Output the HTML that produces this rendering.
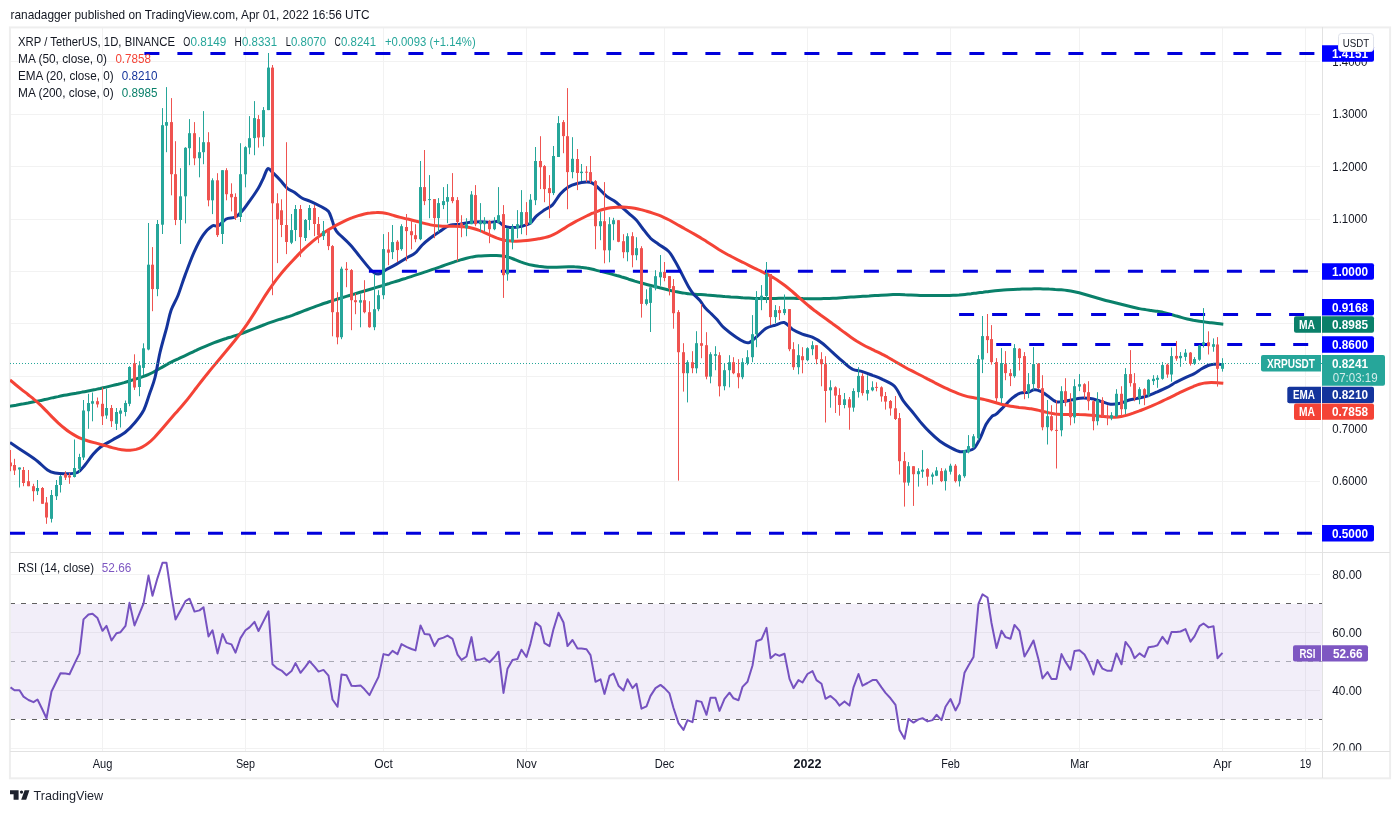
<!DOCTYPE html>
<html lang="en"><head><meta charset="utf-8"><title>XRPUSDT chart</title><style>html,body{margin:0;padding:0;background:#fff}svg{display:block}</style></head><body>
<svg width="1400" height="813" viewBox="0 0 1400 813" font-family="'Liberation Sans', sans-serif" font-size="12.6" fill="#131722">
<rect width="1400" height="813" fill="#fff"/>
<text x="10.5" y="19" font-size="13" textLength="359" lengthAdjust="spacingAndGlyphs">ranadagger published on TradingView.com, Apr 01, 2022 16:56 UTC</text>
<defs><clipPath id="cm"><rect x="10" y="27" width="1312" height="525"/></clipPath><clipPath id="cr"><rect x="10" y="552" width="1312" height="198.5"/></clipPath><clipPath id="ca"><rect x="1322" y="552" width="68" height="198.5"/></clipPath></defs>
<g stroke="#f2f2f2" stroke-width="1" shape-rendering="crispEdges">
<line x1="102.5" y1="27" x2="102.5" y2="750.5"/>
<line x1="245.5" y1="27" x2="245.5" y2="750.5"/>
<line x1="383.5" y1="27" x2="383.5" y2="750.5"/>
<line x1="526.5" y1="27" x2="526.5" y2="750.5"/>
<line x1="664.5" y1="27" x2="664.5" y2="750.5"/>
<line x1="807.5" y1="27" x2="807.5" y2="750.5"/>
<line x1="950.5" y1="27" x2="950.5" y2="750.5"/>
<line x1="1079.5" y1="27" x2="1079.5" y2="750.5"/>
<line x1="1222.5" y1="27" x2="1222.5" y2="750.5"/>
<line x1="1305.5" y1="27" x2="1305.5" y2="750.5"/>
<line x1="10" y1="61.5" x2="1320" y2="61.5"/>
<line x1="10" y1="114.5" x2="1320" y2="114.5"/>
<line x1="10" y1="166.5" x2="1320" y2="166.5"/>
<line x1="10" y1="219.5" x2="1320" y2="219.5"/>
<line x1="10" y1="271.5" x2="1320" y2="271.5"/>
<line x1="10" y1="323.5" x2="1320" y2="323.5"/>
<line x1="10" y1="376.5" x2="1320" y2="376.5"/>
<line x1="10" y1="428.5" x2="1320" y2="428.5"/>
<line x1="10" y1="481.5" x2="1320" y2="481.5"/>
<line x1="10" y1="533.5" x2="1320" y2="533.5"/>
<line x1="10" y1="574.5" x2="1320" y2="574.5"/>
<line x1="10" y1="632.5" x2="1320" y2="632.5"/>
<line x1="10" y1="690.5" x2="1320" y2="690.5"/>
<line x1="10" y1="748.5" x2="1320" y2="748.5"/>
</g>
<rect x="10" y="604" width="1312" height="115" fill="#7e57c2" fill-opacity="0.1"/>
<g stroke="#606060" stroke-width="1" stroke-dasharray="5 6" shape-rendering="crispEdges">
<line x1="10" y1="603.5" x2="1322" y2="603.5"/>
<line x1="10" y1="719.5" x2="1322" y2="719.5"/>
</g>
<line x1="10" y1="661.5" x2="1322" y2="661.5" stroke="#787b86" stroke-opacity="0.6" stroke-width="1" stroke-dasharray="5 6" shape-rendering="crispEdges"/>
<rect x="9.9" y="27.4" width="1380.2" height="750.9" fill="none" stroke="#eeeeee" stroke-width="2"/>
<g stroke="#e2e2e2" stroke-width="1" fill="none" shape-rendering="crispEdges">
<line x1="1322.5" y1="27" x2="1322.5" y2="778"/>
<line x1="10" y1="552.5" x2="1390" y2="552.5"/>
<line x1="10" y1="751" x2="1390" y2="751"/>
</g>
<g clip-path="url(#cm)">
<path d="M10.0 406.2C11.0 406.1 14.0 405.5 16.0 405.2C18.0 404.8 20.0 404.4 22.0 404.1C24.0 403.7 26.0 403.3 28.0 403.0C30.0 402.6 32.0 402.2 34.0 401.8C36.0 401.4 38.0 401.0 40.0 400.6C42.0 400.2 44.0 399.7 46.0 399.3C48.0 398.8 50.0 398.4 52.0 397.9C54.0 397.5 56.1 397.0 58.1 396.6C60.1 396.1 62.1 395.7 64.1 395.3C66.1 395.0 68.1 394.6 70.1 394.2C72.1 393.9 74.1 393.5 76.1 393.2C78.1 392.8 80.1 392.5 82.1 392.1C84.1 391.8 86.1 391.4 88.1 391.0C90.1 390.6 92.1 390.2 94.1 389.8C96.1 389.4 98.1 388.9 100.1 388.5C102.1 388.0 104.1 387.6 106.1 387.1C108.1 386.6 110.1 386.1 112.1 385.6C114.1 385.2 116.1 384.7 118.1 384.2C120.1 383.6 122.1 383.1 124.1 382.6C126.1 382.0 128.1 381.4 130.1 380.8C132.1 380.2 134.1 379.6 136.1 378.9C138.1 378.3 140.1 377.7 142.1 376.9C144.1 376.2 146.2 375.5 148.2 374.6C150.2 373.7 152.2 372.8 154.2 371.7C156.2 370.7 158.2 369.5 160.2 368.3C162.2 367.2 164.2 366.0 166.2 364.9C168.2 363.8 170.2 362.7 172.2 361.7C174.2 360.7 176.2 359.8 178.2 358.9C180.2 357.9 182.2 357.0 184.2 356.1C186.2 355.2 188.2 354.2 190.2 353.2C192.2 352.3 194.2 351.3 196.2 350.4C198.2 349.4 200.2 348.5 202.2 347.6C204.2 346.7 206.2 345.9 208.2 345.1C210.2 344.3 212.2 343.5 214.2 342.7C216.2 341.9 218.2 341.2 220.2 340.5C222.2 339.8 224.2 339.1 226.2 338.5C228.2 337.8 230.2 337.3 232.2 336.6C234.2 336.0 236.3 335.3 238.3 334.7C240.3 334.0 242.3 333.2 244.3 332.5C246.3 331.8 248.3 331.0 250.3 330.2C252.3 329.4 254.3 328.6 256.3 327.8C258.3 327.0 260.3 326.2 262.3 325.5C264.3 324.7 266.3 323.9 268.3 323.2C270.3 322.5 272.3 321.8 274.3 321.1C276.3 320.5 278.3 319.9 280.3 319.2C282.3 318.6 284.3 318.0 286.3 317.3C288.3 316.7 290.3 316.0 292.3 315.3C294.3 314.5 296.3 313.8 298.3 313.0C300.3 312.2 302.3 311.4 304.3 310.6C306.3 309.9 308.3 309.1 310.3 308.3C312.3 307.6 314.3 306.9 316.3 306.1C318.3 305.4 320.3 304.7 322.3 304.0C324.3 303.3 326.4 302.7 328.4 302.0C330.4 301.3 332.4 300.7 334.4 300.1C336.4 299.4 338.4 298.8 340.4 298.2C342.4 297.6 344.4 297.0 346.4 296.4C348.4 295.8 350.4 295.2 352.4 294.6C354.4 294.0 356.4 293.4 358.4 292.8C360.4 292.2 362.4 291.6 364.4 291.0C366.4 290.4 368.4 289.8 370.4 289.2C372.4 288.6 374.4 288.0 376.4 287.4C378.4 286.8 380.4 286.2 382.4 285.6C384.4 285.0 386.4 284.4 388.4 283.8C390.4 283.1 392.4 282.5 394.4 281.9C396.4 281.3 398.4 280.6 400.4 280.0C402.4 279.4 404.4 278.7 406.4 278.1C408.4 277.4 410.4 276.8 412.4 276.1C414.4 275.5 416.5 274.8 418.5 274.1C420.5 273.5 422.5 272.8 424.5 272.1C426.5 271.5 428.5 270.8 430.5 270.1C432.5 269.4 434.5 268.8 436.5 268.1C438.5 267.4 440.5 266.7 442.5 266.0C444.5 265.3 446.5 264.6 448.5 263.9C450.5 263.2 452.5 262.5 454.5 261.8C456.5 261.2 458.5 260.5 460.5 259.9C462.5 259.3 464.5 258.8 466.5 258.3C468.5 257.8 470.5 257.3 472.5 256.9C474.5 256.6 476.5 256.3 478.5 256.1C480.5 255.9 482.5 255.8 484.5 255.7C486.5 255.6 488.5 255.5 490.5 255.5C492.5 255.5 494.5 255.4 496.5 255.5C498.5 255.6 500.5 255.7 502.5 256.0C504.5 256.3 506.6 256.7 508.6 257.3C510.6 257.8 512.6 258.7 514.6 259.5C516.6 260.2 518.6 261.1 520.6 261.9C522.6 262.6 524.6 263.3 526.6 263.9C528.6 264.5 530.6 264.9 532.6 265.3C534.6 265.7 536.6 266.0 538.6 266.3C540.6 266.5 542.6 266.8 544.6 266.9C546.6 267.1 548.6 267.2 550.6 267.2C552.6 267.3 554.6 267.2 556.6 267.2C558.6 267.1 560.6 267.0 562.6 266.9C564.6 266.8 566.6 266.7 568.6 266.7C570.6 266.7 572.6 266.7 574.6 266.8C576.6 266.8 578.6 266.9 580.6 267.2C582.6 267.4 584.6 267.6 586.6 268.0C588.6 268.3 590.6 268.8 592.6 269.3C594.6 269.8 596.7 270.4 598.7 270.9C600.7 271.4 602.7 271.9 604.7 272.4C606.7 272.9 608.7 273.4 610.7 273.9C612.7 274.4 614.7 274.9 616.7 275.5C618.7 276.0 620.7 276.6 622.7 277.3C624.7 277.9 626.7 278.5 628.7 279.2C630.7 279.8 632.7 280.4 634.7 281.1C636.7 281.7 638.7 282.3 640.7 282.8C642.7 283.4 644.7 284.0 646.7 284.5C648.7 285.0 650.7 285.5 652.7 286.0C654.7 286.5 656.7 287.0 658.7 287.5C660.7 288.0 662.7 288.5 664.7 289.0C666.7 289.5 668.7 290.0 670.7 290.5C672.7 290.9 674.7 291.4 676.7 291.8C678.7 292.2 680.7 292.6 682.7 292.9C684.7 293.3 686.8 293.5 688.8 293.8C690.8 294.0 692.8 294.1 694.8 294.2C696.8 294.4 698.8 294.5 700.8 294.6C702.8 294.7 704.8 294.8 706.8 295.0C708.8 295.1 710.8 295.3 712.8 295.5C714.8 295.7 716.8 295.8 718.8 296.0C720.8 296.2 722.8 296.3 724.8 296.5C726.8 296.6 728.8 296.7 730.8 296.9C732.8 297.0 734.8 297.1 736.8 297.2C738.8 297.4 740.8 297.5 742.8 297.7C744.8 297.8 746.8 298.0 748.8 298.1C750.8 298.2 752.8 298.3 754.8 298.4C756.8 298.5 758.8 298.5 760.8 298.6C762.8 298.6 764.8 298.6 766.8 298.5C768.8 298.5 770.8 298.5 772.8 298.5C774.8 298.4 776.9 298.4 778.9 298.3C780.9 298.3 782.9 298.3 784.9 298.3C786.9 298.2 788.9 298.3 790.9 298.3C792.9 298.3 794.9 298.4 796.9 298.4C798.9 298.5 800.9 298.5 802.9 298.6C804.9 298.6 806.9 298.6 808.9 298.7C810.9 298.7 812.9 298.7 814.9 298.7C816.9 298.7 818.9 298.7 820.9 298.7C822.9 298.6 824.9 298.6 826.9 298.5C828.9 298.5 830.9 298.4 832.9 298.3C834.9 298.2 836.9 298.1 838.9 297.9C840.9 297.8 842.9 297.6 844.9 297.5C846.9 297.4 848.9 297.2 850.9 297.1C852.9 297.0 854.9 296.8 856.9 296.7C858.9 296.6 860.9 296.5 862.9 296.3C864.9 296.2 867.0 296.1 869.0 296.0C871.0 295.8 873.0 295.7 875.0 295.6C877.0 295.5 879.0 295.3 881.0 295.2C883.0 295.1 885.0 295.0 887.0 294.9C889.0 294.8 891.0 294.7 893.0 294.6C895.0 294.6 897.0 294.6 899.0 294.6C901.0 294.6 903.0 294.7 905.0 294.8C907.0 294.8 909.0 295.0 911.0 295.0C913.0 295.1 915.0 295.2 917.0 295.3C919.0 295.4 921.0 295.4 923.0 295.5C925.0 295.5 927.0 295.6 929.0 295.6C931.0 295.6 933.0 295.6 935.0 295.6C937.0 295.6 939.0 295.6 941.0 295.6C943.0 295.6 945.0 295.5 947.0 295.5C949.0 295.4 951.0 295.4 953.0 295.3C955.0 295.2 957.1 295.1 959.1 295.0C961.1 294.8 963.1 294.6 965.1 294.4C967.1 294.2 969.1 293.9 971.1 293.7C973.1 293.4 975.1 293.2 977.1 292.9C979.1 292.7 981.1 292.4 983.1 292.2C985.1 291.9 987.1 291.7 989.1 291.4C991.1 291.2 993.1 291.0 995.1 290.8C997.1 290.6 999.1 290.4 1001.1 290.2C1003.1 290.0 1005.1 289.9 1007.1 289.8C1009.1 289.7 1011.1 289.6 1013.1 289.5C1015.1 289.4 1017.1 289.3 1019.1 289.2C1021.1 289.1 1023.1 289.1 1025.1 289.0C1027.1 289.0 1029.1 288.9 1031.1 288.9C1033.1 288.9 1035.1 288.8 1037.1 288.8C1039.1 288.8 1041.1 288.9 1043.1 288.9C1045.1 288.9 1047.2 289.0 1049.2 289.1C1051.2 289.1 1053.2 289.2 1055.2 289.4C1057.2 289.5 1059.2 289.6 1061.2 289.8C1063.2 290.0 1065.2 290.2 1067.2 290.5C1069.2 290.8 1071.2 291.1 1073.2 291.5C1075.2 291.9 1077.2 292.3 1079.2 292.8C1081.2 293.3 1083.2 293.9 1085.2 294.5C1087.2 295.1 1089.2 295.7 1091.2 296.3C1093.2 296.9 1095.2 297.5 1097.2 298.0C1099.2 298.6 1101.2 299.2 1103.2 299.7C1105.2 300.3 1107.2 300.8 1109.2 301.3C1111.2 301.8 1113.2 302.3 1115.2 302.8C1117.2 303.3 1119.2 303.8 1121.2 304.3C1123.2 304.8 1125.2 305.3 1127.2 305.8C1129.2 306.3 1131.2 306.8 1133.2 307.3C1135.2 307.8 1137.3 308.2 1139.3 308.6C1141.3 309.0 1143.3 309.3 1145.3 309.6C1147.3 310.0 1149.3 310.2 1151.3 310.5C1153.3 310.8 1155.3 311.0 1157.3 311.3C1159.3 311.7 1161.3 312.0 1163.3 312.4C1165.3 312.9 1167.3 313.4 1169.3 313.9C1171.3 314.5 1173.3 315.1 1175.3 315.7C1177.3 316.2 1179.3 316.9 1181.3 317.4C1183.3 318.0 1185.3 318.5 1187.3 319.0C1189.3 319.5 1191.3 319.9 1193.3 320.3C1195.3 320.6 1197.3 320.9 1199.3 321.2C1201.3 321.5 1203.3 321.8 1205.3 322.1C1207.3 322.3 1209.3 322.6 1211.3 322.8C1213.3 323.1 1215.3 323.3 1217.3 323.5C1219.3 323.8 1222.3 324.1 1223.3 324.2" fill="none" stroke="#0a806a" stroke-width="3" stroke-linejoin="round" stroke-linecap="butt"/>
<path d="M10.0 442.5C12.5 444.2 20.4 449.4 25.0 452.5C29.6 455.6 33.8 458.3 37.5 461.2C41.2 464.2 44.6 468.0 47.5 470.0C50.4 472.0 52.1 472.4 55.0 473.0C57.9 473.6 61.2 473.8 65.0 473.8C68.8 473.7 74.2 474.0 77.5 472.5C80.8 471.0 82.5 467.9 85.0 465.0C87.5 462.1 90.0 457.9 92.5 455.0C95.0 452.1 96.7 450.0 100.0 447.5C103.3 445.0 108.3 442.5 112.5 440.0C116.7 437.5 121.2 435.4 125.0 432.5C128.8 429.6 131.9 426.2 135.0 422.5C138.1 418.8 141.2 415.0 143.8 410.0C146.2 405.0 148.1 397.9 150.0 392.5C151.9 387.1 153.3 384.2 155.0 377.5C156.7 370.8 158.1 360.8 160.0 352.5C161.9 344.2 164.8 334.7 166.7 327.6C168.5 320.6 169.2 315.6 171.1 310.2C173.0 304.8 175.8 301.0 178.1 295.2C180.4 289.3 182.4 282.3 185.1 275.1C187.8 268.0 191.1 258.8 194.1 252.1C197.1 245.4 200.1 239.4 203.1 235.1C206.2 230.7 209.7 227.5 212.2 226.0C214.7 224.5 215.8 227.2 218.2 226.0C220.5 224.9 223.4 220.5 226.2 219.0C229.0 217.5 232.5 218.4 235.2 217.0C237.9 215.7 239.9 213.6 242.2 211.0C244.6 208.4 246.6 205.4 249.2 201.6C251.9 197.9 255.9 192.2 258.3 188.3C260.6 184.4 261.7 181.5 263.3 178.3C264.9 175.0 266.2 169.5 267.9 168.6C269.5 167.8 271.2 171.3 273.3 173.2C275.4 175.2 278.0 177.8 280.3 180.3C282.6 182.8 285.0 186.3 287.3 188.3C289.7 190.3 291.8 190.6 294.3 192.3C296.8 194.0 299.7 196.8 302.3 198.3C305.0 199.8 307.4 200.0 310.4 201.3C313.4 202.6 317.4 204.6 320.4 206.3C323.4 208.0 326.4 208.9 328.4 211.3C330.4 213.8 331.1 217.7 332.4 221.0C333.7 224.3 333.4 227.0 336.4 231.1C339.4 235.1 344.8 238.7 350.4 245.1C356.1 251.5 365.8 264.7 370.5 269.5C375.2 274.4 375.8 274.1 378.5 274.1C381.2 274.1 383.5 271.2 386.5 269.5C389.5 267.9 393.1 266.1 396.5 264.1C400.0 262.1 404.2 259.3 407.3 257.5C410.4 255.7 412.6 255.3 415.0 253.2C417.5 251.2 419.5 247.7 422.0 245.2C424.5 242.7 427.1 240.5 430.1 238.2C433.1 235.9 436.7 233.4 440.1 231.2C443.4 229.0 446.8 226.3 450.1 225.2C453.4 224.0 456.8 224.7 460.1 224.2C463.5 223.7 466.8 222.6 470.1 222.2C473.5 221.8 476.8 221.8 480.2 221.8C483.5 221.8 487.2 222.2 490.2 222.2C493.2 222.2 495.9 221.1 498.2 221.8C500.5 222.4 501.9 225.2 504.2 226.2C506.5 227.1 509.6 227.5 512.2 227.6C514.9 227.6 517.2 227.3 520.2 226.6C523.2 225.8 527.6 224.9 530.3 223.2C532.9 221.4 533.9 218.3 536.3 216.2C538.6 214.0 541.6 212.0 544.3 210.1C547.0 208.3 549.6 207.8 552.3 205.1C555.0 202.5 557.6 197.1 560.3 194.1C563.0 191.1 565.7 188.8 568.3 187.1C571.0 185.4 573.3 184.5 576.4 183.7C579.4 182.9 583.7 182.2 586.4 182.1C589.0 182.0 590.4 182.1 592.4 183.1C594.4 184.1 596.1 185.9 598.4 188.1C600.7 190.3 603.7 193.9 606.4 196.1C609.1 198.3 612.1 199.5 614.4 201.1C616.8 202.8 618.1 204.1 620.4 206.1C622.8 208.1 625.8 210.8 628.5 213.1C631.1 215.5 634.1 217.7 636.5 220.2C638.8 222.7 640.1 225.2 642.5 228.2C644.8 231.2 647.8 235.5 650.5 238.2C653.2 240.9 655.5 242.0 658.5 244.2C661.5 246.4 665.9 248.6 668.5 251.2C671.2 253.9 672.6 257.1 674.5 260.2C676.5 263.4 677.6 265.7 680.0 270.3C682.3 274.8 686.5 283.3 688.8 287.3C691.1 291.3 692.0 292.2 693.8 294.4C695.7 296.6 698.0 298.2 699.9 300.4C701.7 302.6 703.1 305.3 704.9 307.5C706.8 309.7 708.9 311.5 711.0 313.5C713.0 315.6 714.8 317.2 717.0 319.6C719.2 322.0 720.9 325.0 724.1 327.9C727.3 330.8 732.8 334.9 736.2 337.2C739.5 339.5 742.0 340.9 744.2 341.8C746.3 342.7 747.2 343.4 749.2 342.6C751.2 341.8 753.4 339.6 756.2 337.2C759.0 334.8 763.0 330.2 766.2 328.2C769.4 326.2 772.2 326.1 775.2 325.2C778.2 324.2 781.4 321.9 784.2 322.5C787.1 323.2 789.3 327.2 792.3 329.2C795.3 331.1 798.9 332.8 802.3 334.2C805.6 335.5 809.0 335.7 812.3 337.2C815.6 338.7 819.0 340.7 822.3 343.2C825.7 345.7 829.0 349.2 832.3 352.2C835.7 355.2 839.0 358.4 842.4 361.2C845.7 364.1 849.0 367.5 852.4 369.2C855.7 371.0 859.1 370.6 862.4 371.6C865.7 372.6 869.1 374.0 872.4 375.3C875.8 376.5 878.8 377.4 882.4 379.3C886.1 381.1 891.0 382.6 894.5 386.3C898.0 389.9 900.5 396.9 903.5 401.2C906.5 405.5 909.7 408.6 912.5 412.0C915.3 415.5 917.7 418.8 920.5 422.1C923.3 425.3 926.0 428.5 929.3 431.7C932.5 434.9 936.6 438.7 940.0 441.3C943.5 443.9 946.7 445.6 950.1 447.3C953.4 449.0 957.1 451.1 960.1 451.7C963.1 452.3 965.8 451.3 968.1 450.7C970.4 450.1 972.1 450.4 974.1 448.3C976.1 446.2 978.1 442.3 980.1 438.3C982.1 434.3 984.1 427.9 986.1 424.2C988.1 420.6 990.5 417.9 992.1 416.2C993.8 414.6 994.1 415.9 996.2 414.2C998.2 412.6 1001.5 408.9 1004.2 406.2C1006.8 403.5 1009.5 400.4 1012.2 398.2C1014.9 396.0 1017.5 394.2 1020.2 393.2C1022.9 392.2 1025.9 392.8 1028.2 392.2C1030.6 391.6 1032.2 389.9 1034.2 389.8C1036.2 389.6 1037.9 390.1 1040.2 391.2C1042.6 392.3 1045.6 394.4 1048.3 396.2C1050.9 398.0 1053.6 401.0 1056.3 401.8C1058.9 402.6 1061.6 401.5 1064.3 401.2C1067.0 400.9 1069.6 400.3 1072.3 399.8C1075.0 399.3 1077.3 398.4 1080.3 398.2C1083.3 398.0 1087.0 398.1 1090.3 398.6C1093.7 399.1 1097.0 400.3 1100.4 401.2C1103.7 402.1 1107.0 403.9 1110.4 404.2C1113.7 404.5 1117.4 403.9 1120.4 403.2C1123.4 402.5 1125.7 401.0 1128.4 400.2C1131.1 399.4 1133.4 399.3 1136.4 398.6C1139.4 397.9 1143.1 397.3 1146.5 396.2C1149.8 395.1 1153.1 393.6 1156.5 392.2C1159.8 390.8 1163.4 389.3 1166.6 387.7C1169.9 386.0 1172.8 384.0 1175.8 382.3C1178.9 380.7 1181.9 379.2 1184.9 377.8C1187.9 376.4 1191.1 375.4 1193.9 373.9C1196.7 372.4 1199.3 370.2 1201.7 368.8C1204.0 367.4 1206.2 366.3 1208.1 365.5C1210.0 364.8 1211.3 364.5 1213.3 364.3C1215.2 364.0 1218.1 364.2 1219.7 364.3C1221.3 364.3 1222.4 364.5 1223.0 364.5" fill="none" stroke="#14349c" stroke-width="3" stroke-linejoin="round" stroke-linecap="butt"/>
<path d="M10.0 380.0C11.0 380.8 14.0 383.3 16.0 385.0C18.0 386.6 20.0 388.2 22.0 389.8C24.0 391.4 26.0 392.9 28.0 394.5C30.0 396.1 32.0 397.6 34.0 399.3C36.0 400.9 38.0 402.7 40.0 404.6C42.0 406.5 44.0 408.6 46.0 410.6C48.0 412.7 50.0 414.8 52.0 416.9C54.0 418.9 56.1 420.9 58.1 422.8C60.1 424.6 62.1 426.4 64.1 428.0C66.1 429.7 68.1 431.2 70.1 432.5C72.1 433.8 74.1 435.0 76.1 436.1C78.1 437.2 80.1 438.1 82.1 438.9C84.1 439.7 86.1 440.4 88.1 441.0C90.1 441.6 92.1 442.1 94.1 442.6C96.1 443.2 98.1 443.6 100.1 444.2C102.1 444.7 104.1 445.3 106.1 445.9C108.1 446.4 110.1 447.1 112.1 447.6C114.1 448.1 116.1 448.7 118.1 449.1C120.1 449.5 122.1 449.9 124.1 450.0C126.1 450.2 128.1 450.3 130.1 450.2C132.1 450.1 134.1 449.9 136.1 449.4C138.1 448.8 140.1 448.1 142.1 447.1C144.1 446.1 146.2 444.8 148.2 443.2C150.2 441.6 152.2 439.7 154.2 437.7C156.2 435.7 158.2 433.4 160.2 431.1C162.2 428.8 164.2 426.4 166.2 424.0C168.2 421.7 170.2 419.3 172.2 417.0C174.2 414.7 176.2 412.5 178.2 410.2C180.2 407.9 182.2 405.7 184.2 403.3C186.2 400.9 188.2 398.4 190.2 395.8C192.2 393.3 194.2 390.6 196.2 388.0C198.2 385.4 200.2 382.7 202.2 380.2C204.2 377.6 206.2 375.1 208.2 372.7C210.2 370.2 212.2 367.8 214.2 365.4C216.2 363.0 218.2 360.6 220.2 358.2C222.2 355.8 224.2 353.4 226.2 351.0C228.2 348.6 230.2 346.2 232.2 343.7C234.2 341.2 236.3 338.8 238.3 336.2C240.3 333.6 242.3 330.9 244.3 328.2C246.3 325.4 248.3 322.5 250.3 319.4C252.3 316.4 254.3 313.2 256.3 309.9C258.3 306.7 260.3 303.4 262.3 300.2C264.3 297.0 266.3 293.8 268.3 290.9C270.3 287.9 272.3 285.0 274.3 282.3C276.3 279.6 278.3 277.1 280.3 274.6C282.3 272.2 284.3 269.9 286.3 267.6C288.3 265.3 290.3 263.1 292.3 261.0C294.3 258.8 296.3 256.7 298.3 254.6C300.3 252.6 302.3 250.6 304.3 248.7C306.3 246.9 308.3 245.1 310.3 243.4C312.3 241.6 314.3 240.0 316.3 238.4C318.3 236.9 320.3 235.3 322.3 233.9C324.3 232.5 326.4 231.1 328.4 229.8C330.4 228.6 332.4 227.4 334.4 226.3C336.4 225.1 338.4 224.1 340.4 223.1C342.4 222.1 344.4 221.1 346.4 220.2C348.4 219.3 350.4 218.4 352.4 217.7C354.4 216.9 356.4 216.2 358.4 215.6C360.4 215.0 362.4 214.5 364.4 214.0C366.4 213.6 368.4 213.2 370.4 213.0C372.4 212.7 374.4 212.5 376.4 212.5C378.4 212.4 380.4 212.5 382.4 212.7C384.4 213.0 386.4 213.4 388.4 213.9C390.4 214.4 392.4 215.1 394.4 215.7C396.4 216.3 398.4 216.9 400.4 217.4C402.4 217.9 404.4 218.3 406.4 218.8C408.4 219.2 410.4 219.7 412.4 220.2C414.4 220.7 416.5 221.2 418.5 221.8C420.5 222.3 422.5 222.9 424.5 223.4C426.5 223.9 428.5 224.5 430.5 224.9C432.5 225.3 434.5 225.6 436.5 225.8C438.5 226.0 440.5 226.2 442.5 226.2C444.5 226.3 446.5 226.3 448.5 226.3C450.5 226.3 452.5 226.2 454.5 226.3C456.5 226.3 458.5 226.3 460.5 226.4C462.5 226.5 464.5 226.7 466.5 227.0C468.5 227.3 470.5 227.7 472.5 228.2C474.5 228.8 476.5 229.4 478.5 230.2C480.5 230.9 482.5 231.7 484.5 232.6C486.5 233.4 488.5 234.4 490.5 235.3C492.5 236.1 494.5 237.0 496.5 237.8C498.5 238.5 500.5 239.2 502.5 239.7C504.5 240.2 506.6 240.6 508.6 240.8C510.6 241.1 512.6 241.2 514.6 241.2C516.6 241.3 518.6 241.2 520.6 241.1C522.6 241.0 524.6 240.8 526.6 240.6C528.6 240.4 530.6 240.1 532.6 239.8C534.6 239.5 536.6 239.2 538.6 238.8C540.6 238.4 542.6 238.1 544.6 237.6C546.6 237.1 548.6 236.6 550.6 235.8C552.6 235.1 554.6 234.1 556.6 233.0C558.6 231.9 560.6 230.6 562.6 229.3C564.6 228.1 566.6 226.7 568.6 225.5C570.6 224.3 572.6 223.2 574.6 222.1C576.6 221.0 578.6 220.0 580.6 219.0C582.6 218.0 584.6 217.0 586.6 216.0C588.6 215.1 590.6 214.1 592.6 213.2C594.6 212.4 596.7 211.5 598.7 210.8C600.7 210.1 602.7 209.5 604.7 209.0C606.7 208.5 608.7 208.1 610.7 207.8C612.7 207.5 614.7 207.3 616.7 207.2C618.7 207.1 620.7 207.1 622.7 207.1C624.7 207.2 626.7 207.3 628.7 207.5C630.7 207.7 632.7 208.0 634.7 208.3C636.7 208.7 638.7 209.1 640.7 209.6C642.7 210.1 644.7 210.7 646.7 211.2C648.7 211.8 650.7 212.4 652.7 213.1C654.7 213.8 656.7 214.5 658.7 215.2C660.7 216.0 662.7 216.9 664.7 217.8C666.7 218.7 668.7 219.8 670.7 220.8C672.7 221.9 674.7 223.1 676.7 224.2C678.7 225.3 680.7 226.5 682.7 227.6C684.7 228.7 686.8 229.8 688.8 231.0C690.8 232.1 692.8 233.2 694.8 234.4C696.8 235.5 698.8 236.7 700.8 237.9C702.8 239.2 704.8 240.4 706.8 241.7C708.8 243.0 710.8 244.3 712.8 245.6C714.8 246.9 716.8 248.2 718.8 249.5C720.8 250.7 722.8 251.9 724.8 253.0C726.8 254.1 728.8 255.2 730.8 256.2C732.8 257.3 734.8 258.3 736.8 259.3C738.8 260.3 740.8 261.3 742.8 262.3C744.8 263.4 746.8 264.4 748.8 265.3C750.8 266.3 752.8 267.3 754.8 268.3C756.8 269.3 758.8 270.2 760.8 271.2C762.8 272.2 764.8 273.1 766.8 274.2C768.8 275.2 770.8 276.3 772.8 277.4C774.8 278.6 776.9 279.8 778.9 281.2C780.9 282.5 782.9 284.0 784.9 285.5C786.9 287.0 788.9 288.7 790.9 290.4C792.9 292.1 794.9 293.9 796.9 295.6C798.9 297.4 800.9 299.2 802.9 300.9C804.9 302.6 806.9 304.4 808.9 306.0C810.9 307.7 812.9 309.2 814.9 310.8C816.9 312.3 818.9 313.8 820.9 315.3C822.9 316.7 824.9 318.1 826.9 319.5C828.9 321.0 830.9 322.4 832.9 323.9C834.9 325.3 836.9 326.8 838.9 328.3C840.9 329.8 842.9 331.4 844.9 332.8C846.9 334.3 848.9 335.8 850.9 337.2C852.9 338.6 854.9 340.0 856.9 341.3C858.9 342.5 860.9 343.7 862.9 344.8C864.9 346.0 867.0 347.0 869.0 347.9C871.0 348.9 873.0 349.8 875.0 350.8C877.0 351.7 879.0 352.6 881.0 353.6C883.0 354.6 885.0 355.7 887.0 356.7C889.0 357.8 891.0 359.0 893.0 360.2C895.0 361.3 897.0 362.5 899.0 363.7C901.0 364.9 903.0 366.0 905.0 367.2C907.0 368.3 909.0 369.4 911.0 370.4C913.0 371.5 915.0 372.5 917.0 373.5C919.0 374.5 921.0 375.5 923.0 376.5C925.0 377.5 927.0 378.6 929.0 379.6C931.0 380.7 933.0 381.7 935.0 382.8C937.0 383.8 939.0 384.8 941.0 385.8C943.0 386.8 945.0 387.8 947.0 388.7C949.0 389.7 951.0 390.6 953.0 391.4C955.0 392.3 957.1 393.1 959.1 393.9C961.1 394.6 963.1 395.3 965.1 395.9C967.1 396.5 969.1 396.9 971.1 397.3C973.1 397.7 975.1 397.9 977.1 398.2C979.1 398.5 981.1 398.8 983.1 399.2C985.1 399.6 987.1 400.2 989.1 400.7C991.1 401.3 993.1 401.9 995.1 402.5C997.1 403.1 999.1 403.7 1001.1 404.2C1003.1 404.7 1005.1 405.1 1007.1 405.5C1009.1 405.9 1011.1 406.3 1013.1 406.6C1015.1 406.9 1017.1 407.1 1019.1 407.4C1021.1 407.6 1023.1 407.8 1025.1 408.0C1027.1 408.3 1029.1 408.5 1031.1 408.8C1033.1 409.2 1035.1 409.6 1037.1 410.0C1039.1 410.4 1041.1 411.0 1043.1 411.5C1045.1 412.0 1047.2 412.5 1049.2 412.9C1051.2 413.4 1053.2 413.7 1055.2 414.0C1057.2 414.2 1059.2 414.3 1061.2 414.4C1063.2 414.5 1065.2 414.5 1067.2 414.5C1069.2 414.5 1071.2 414.5 1073.2 414.5C1075.2 414.5 1077.2 414.4 1079.2 414.5C1081.2 414.5 1083.2 414.6 1085.2 414.7C1087.2 414.8 1089.2 415.0 1091.2 415.2C1093.2 415.4 1095.2 415.6 1097.2 415.8C1099.2 416.0 1101.2 416.3 1103.2 416.5C1105.2 416.7 1107.2 416.9 1109.2 417.0C1111.2 417.2 1113.2 417.3 1115.2 417.2C1117.2 417.1 1119.2 416.9 1121.2 416.6C1123.2 416.2 1125.2 415.7 1127.2 415.1C1129.2 414.5 1131.2 413.8 1133.2 413.1C1135.2 412.3 1137.3 411.6 1139.3 410.9C1141.3 410.1 1143.3 409.4 1145.3 408.6C1147.3 407.8 1149.3 407.0 1151.3 406.2C1153.3 405.3 1155.3 404.4 1157.3 403.5C1159.3 402.6 1161.3 401.7 1163.3 400.7C1165.3 399.7 1167.3 398.8 1169.3 397.8C1171.3 396.8 1173.3 395.8 1175.3 394.8C1177.3 393.8 1179.3 392.9 1181.3 391.9C1183.3 391.0 1185.3 390.1 1187.3 389.2C1189.3 388.3 1191.3 387.4 1193.3 386.6C1195.3 385.8 1197.3 384.9 1199.3 384.3C1201.3 383.7 1203.3 383.3 1205.3 382.9C1207.3 382.6 1209.3 382.5 1211.3 382.5C1213.3 382.5 1215.3 382.6 1217.3 382.7C1219.3 382.8 1222.3 383.1 1223.3 383.2" fill="none" stroke="#f44336" stroke-width="3" stroke-linejoin="round" stroke-linecap="butt"/>
<line x1="144.4" y1="53.5" x2="1322" y2="53.5" stroke="#0000dc" stroke-width="3" stroke-dasharray="15 18"/>
<line x1="368.9" y1="271.2" x2="1322" y2="271.2" stroke="#0000dc" stroke-width="3" stroke-dasharray="15 18"/>
<line x1="959.1" y1="314.4" x2="1322" y2="314.4" stroke="#0000dc" stroke-width="3" stroke-dasharray="15 18"/>
<line x1="996.2" y1="344.5" x2="1322" y2="344.5" stroke="#0000dc" stroke-width="3" stroke-dasharray="15 18"/>
<line x1="10" y1="533.3" x2="1322" y2="533.3" stroke="#0000dc" stroke-width="3" stroke-dasharray="15 18"/>
<line x1="10" y1="363.5" x2="1322" y2="363.5" stroke="#26a69a" stroke-width="1" stroke-dasharray="1 2" shape-rendering="crispEdges"/>
<rect x="10" y="450.0" width="1" height="21.2" fill="#ef5350"/>
<rect x="9" y="462.5" width="3" height="3.8" fill="#ef5350"/>
<rect x="14" y="458.8" width="1" height="16.2" fill="#ef5350"/>
<rect x="13" y="465.0" width="3" height="5.5" fill="#ef5350"/>
<rect x="19" y="467.5" width="1" height="20.0" fill="#26a69a"/>
<rect x="18" y="467.5" width="3" height="2.0" fill="#26a69a"/>
<rect x="23" y="467.0" width="1" height="19.2" fill="#ef5350"/>
<rect x="22" y="470.0" width="3" height="13.0" fill="#ef5350"/>
<rect x="28" y="470.0" width="1" height="16.2" fill="#ef5350"/>
<rect x="27" y="481.2" width="3" height="5.0" fill="#ef5350"/>
<rect x="33" y="483.8" width="1" height="17.5" fill="#ef5350"/>
<rect x="32" y="486.2" width="3" height="5.0" fill="#ef5350"/>
<rect x="37" y="480.0" width="1" height="15.0" fill="#26a69a"/>
<rect x="36" y="488.0" width="3" height="3.2" fill="#26a69a"/>
<rect x="42" y="487.0" width="1" height="16.8" fill="#ef5350"/>
<rect x="41" y="488.0" width="3" height="15.8" fill="#ef5350"/>
<rect x="46" y="497.0" width="1" height="26.8" fill="#ef5350"/>
<rect x="45" y="502.5" width="3" height="15.0" fill="#ef5350"/>
<rect x="51" y="490.0" width="1" height="32.5" fill="#26a69a"/>
<rect x="50" y="495.0" width="3" height="23.8" fill="#26a69a"/>
<rect x="56" y="480.0" width="1" height="20.0" fill="#26a69a"/>
<rect x="55" y="485.0" width="3" height="11.2" fill="#26a69a"/>
<rect x="60" y="475.0" width="1" height="17.5" fill="#26a69a"/>
<rect x="59" y="476.2" width="3" height="8.8" fill="#26a69a"/>
<rect x="65" y="471.2" width="1" height="8.8" fill="#ef5350"/>
<rect x="64" y="473.8" width="3" height="3.8" fill="#ef5350"/>
<rect x="69" y="473.0" width="1" height="10.8" fill="#ef5350"/>
<rect x="68" y="475.5" width="3" height="2.0" fill="#ef5350"/>
<rect x="74" y="439.5" width="1" height="38.0" fill="#26a69a"/>
<rect x="73" y="468.0" width="3" height="9.0" fill="#26a69a"/>
<rect x="79" y="453.8" width="1" height="19.2" fill="#26a69a"/>
<rect x="78" y="457.0" width="3" height="11.8" fill="#26a69a"/>
<rect x="83" y="400.0" width="1" height="60.0" fill="#26a69a"/>
<rect x="82" y="410.5" width="3" height="47.0" fill="#26a69a"/>
<rect x="88" y="393.8" width="1" height="35.0" fill="#26a69a"/>
<rect x="87" y="403.0" width="3" height="8.2" fill="#26a69a"/>
<rect x="92" y="392.5" width="1" height="28.8" fill="#26a69a"/>
<rect x="91" y="401.2" width="3" height="2.5" fill="#26a69a"/>
<rect x="97" y="397.5" width="1" height="10.0" fill="#ef5350"/>
<rect x="96" y="401.2" width="3" height="3.2" fill="#ef5350"/>
<rect x="102" y="387.5" width="1" height="37.5" fill="#ef5350"/>
<rect x="101" y="403.8" width="3" height="12.5" fill="#ef5350"/>
<rect x="106" y="388.8" width="1" height="30.0" fill="#26a69a"/>
<rect x="105" y="408.0" width="3" height="7.5" fill="#26a69a"/>
<rect x="111" y="405.0" width="1" height="22.0" fill="#ef5350"/>
<rect x="110" y="408.0" width="3" height="13.2" fill="#ef5350"/>
<rect x="116" y="408.0" width="1" height="22.0" fill="#26a69a"/>
<rect x="115" y="412.0" width="3" height="11.8" fill="#26a69a"/>
<rect x="120" y="408.0" width="1" height="19.5" fill="#26a69a"/>
<rect x="119" y="410.5" width="3" height="3.2" fill="#26a69a"/>
<rect x="125" y="400.5" width="1" height="15.8" fill="#26a69a"/>
<rect x="124" y="403.0" width="3" height="9.0" fill="#26a69a"/>
<rect x="129" y="366.2" width="1" height="40.0" fill="#26a69a"/>
<rect x="128" y="367.0" width="3" height="36.8" fill="#26a69a"/>
<rect x="134" y="354.3" width="1" height="35.7" fill="#ef5350"/>
<rect x="133" y="363.3" width="3" height="24.2" fill="#ef5350"/>
<rect x="139" y="361.2" width="1" height="35.0" fill="#26a69a"/>
<rect x="138" y="365.3" width="3" height="21.7" fill="#26a69a"/>
<rect x="143" y="343.3" width="1" height="31.7" fill="#26a69a"/>
<rect x="142" y="348.3" width="3" height="19.6" fill="#26a69a"/>
<rect x="148" y="223.0" width="1" height="127.3" fill="#26a69a"/>
<rect x="147" y="264.7" width="3" height="84.8" fill="#26a69a"/>
<rect x="152" y="247.1" width="1" height="64.1" fill="#ef5350"/>
<rect x="151" y="264.7" width="3" height="24.4" fill="#ef5350"/>
<rect x="157" y="220.0" width="1" height="76.2" fill="#26a69a"/>
<rect x="156" y="224.0" width="3" height="65.1" fill="#26a69a"/>
<rect x="162" y="108.1" width="1" height="125.9" fill="#26a69a"/>
<rect x="161" y="125.2" width="3" height="99.5" fill="#26a69a"/>
<rect x="166" y="87.1" width="1" height="65.1" fill="#26a69a"/>
<rect x="165" y="122.1" width="3" height="3.6" fill="#26a69a"/>
<rect x="171" y="98.1" width="1" height="97.2" fill="#ef5350"/>
<rect x="170" y="122.1" width="3" height="52.1" fill="#ef5350"/>
<rect x="175" y="141.2" width="1" height="83.9" fill="#ef5350"/>
<rect x="174" y="174.2" width="3" height="45.8" fill="#ef5350"/>
<rect x="180" y="168.2" width="1" height="75.8" fill="#26a69a"/>
<rect x="179" y="196.3" width="3" height="23.7" fill="#26a69a"/>
<rect x="185" y="147.2" width="1" height="76.2" fill="#26a69a"/>
<rect x="184" y="147.8" width="3" height="48.5" fill="#26a69a"/>
<rect x="189" y="119.1" width="1" height="46.1" fill="#26a69a"/>
<rect x="188" y="133.2" width="3" height="15.0" fill="#26a69a"/>
<rect x="194" y="122.1" width="1" height="43.1" fill="#ef5350"/>
<rect x="193" y="133.2" width="3" height="25.1" fill="#ef5350"/>
<rect x="199" y="137.2" width="1" height="40.1" fill="#26a69a"/>
<rect x="198" y="152.2" width="3" height="6.0" fill="#26a69a"/>
<rect x="203" y="111.1" width="1" height="53.1" fill="#26a69a"/>
<rect x="202" y="142.2" width="3" height="10.0" fill="#26a69a"/>
<rect x="208" y="132.2" width="1" height="74.1" fill="#ef5350"/>
<rect x="207" y="142.2" width="3" height="58.1" fill="#ef5350"/>
<rect x="212" y="178.3" width="1" height="35.8" fill="#26a69a"/>
<rect x="211" y="180.3" width="3" height="20.0" fill="#26a69a"/>
<rect x="217" y="173.2" width="1" height="63.8" fill="#ef5350"/>
<rect x="216" y="180.3" width="3" height="54.8" fill="#ef5350"/>
<rect x="222" y="170.2" width="1" height="73.8" fill="#26a69a"/>
<rect x="221" y="170.2" width="3" height="63.8" fill="#26a69a"/>
<rect x="226" y="168.2" width="1" height="32.1" fill="#ef5350"/>
<rect x="225" y="170.2" width="3" height="24.0" fill="#ef5350"/>
<rect x="231" y="183.3" width="1" height="28.1" fill="#ef5350"/>
<rect x="230" y="193.9" width="3" height="3.4" fill="#ef5350"/>
<rect x="235" y="193.3" width="1" height="26.7" fill="#ef5350"/>
<rect x="234" y="196.9" width="3" height="21.1" fill="#ef5350"/>
<rect x="240" y="143.2" width="1" height="78.8" fill="#26a69a"/>
<rect x="239" y="174.2" width="3" height="42.8" fill="#26a69a"/>
<rect x="245" y="146.2" width="1" height="41.1" fill="#26a69a"/>
<rect x="244" y="147.2" width="3" height="27.1" fill="#26a69a"/>
<rect x="249" y="116.1" width="1" height="38.1" fill="#26a69a"/>
<rect x="248" y="138.2" width="3" height="9.4" fill="#26a69a"/>
<rect x="254" y="101.1" width="1" height="54.1" fill="#26a69a"/>
<rect x="253" y="118.1" width="3" height="20.0" fill="#26a69a"/>
<rect x="258" y="115.1" width="1" height="32.5" fill="#ef5350"/>
<rect x="257" y="119.1" width="3" height="18.4" fill="#ef5350"/>
<rect x="263" y="107.1" width="1" height="39.1" fill="#26a69a"/>
<rect x="262" y="110.1" width="3" height="27.1" fill="#26a69a"/>
<rect x="268" y="53.0" width="1" height="57.1" fill="#26a69a"/>
<rect x="267" y="67.6" width="3" height="42.5" fill="#26a69a"/>
<rect x="272" y="65.0" width="1" height="230.2" fill="#ef5350"/>
<rect x="271" y="67.6" width="3" height="135.7" fill="#ef5350"/>
<rect x="277" y="193.3" width="1" height="69.8" fill="#ef5350"/>
<rect x="276" y="203.3" width="3" height="16.1" fill="#ef5350"/>
<rect x="281" y="199.3" width="1" height="37.8" fill="#ef5350"/>
<rect x="280" y="210.3" width="3" height="14.7" fill="#ef5350"/>
<rect x="286" y="142.2" width="1" height="111.9" fill="#ef5350"/>
<rect x="285" y="225.0" width="3" height="17.0" fill="#ef5350"/>
<rect x="291" y="214.0" width="1" height="30.1" fill="#26a69a"/>
<rect x="290" y="230.1" width="3" height="12.6" fill="#26a69a"/>
<rect x="295" y="205.0" width="1" height="36.1" fill="#26a69a"/>
<rect x="294" y="209.0" width="3" height="21.0" fill="#26a69a"/>
<rect x="300" y="205.0" width="1" height="52.1" fill="#ef5350"/>
<rect x="299" y="209.0" width="3" height="28.1" fill="#ef5350"/>
<rect x="305" y="219.0" width="1" height="22.0" fill="#26a69a"/>
<rect x="304" y="220.0" width="3" height="18.0" fill="#26a69a"/>
<rect x="309" y="205.0" width="1" height="25.1" fill="#26a69a"/>
<rect x="308" y="208.0" width="3" height="12.0" fill="#26a69a"/>
<rect x="314" y="205.0" width="1" height="31.1" fill="#ef5350"/>
<rect x="313" y="208.0" width="3" height="16.0" fill="#ef5350"/>
<rect x="318" y="217.0" width="1" height="26.1" fill="#ef5350"/>
<rect x="317" y="224.0" width="3" height="11.0" fill="#ef5350"/>
<rect x="323" y="221.0" width="1" height="19.0" fill="#26a69a"/>
<rect x="322" y="231.1" width="3" height="5.0" fill="#26a69a"/>
<rect x="328" y="230.1" width="1" height="20.0" fill="#ef5350"/>
<rect x="327" y="230.1" width="3" height="16.0" fill="#ef5350"/>
<rect x="332" y="245.1" width="1" height="91.2" fill="#ef5350"/>
<rect x="331" y="246.1" width="3" height="66.1" fill="#ef5350"/>
<rect x="337" y="292.2" width="1" height="52.1" fill="#ef5350"/>
<rect x="336" y="312.2" width="3" height="25.1" fill="#ef5350"/>
<rect x="341" y="266.7" width="1" height="72.5" fill="#26a69a"/>
<rect x="340" y="268.7" width="3" height="68.5" fill="#26a69a"/>
<rect x="346" y="262.1" width="1" height="25.1" fill="#ef5350"/>
<rect x="345" y="268.7" width="3" height="1.4" fill="#ef5350"/>
<rect x="351" y="269.1" width="1" height="61.1" fill="#ef5350"/>
<rect x="350" y="270.1" width="3" height="30.1" fill="#ef5350"/>
<rect x="355" y="293.2" width="1" height="21.0" fill="#ef5350"/>
<rect x="354" y="300.2" width="3" height="2.0" fill="#ef5350"/>
<rect x="360" y="294.2" width="1" height="33.1" fill="#26a69a"/>
<rect x="359" y="300.2" width="3" height="2.4" fill="#26a69a"/>
<rect x="364" y="280.2" width="1" height="33.1" fill="#ef5350"/>
<rect x="363" y="300.2" width="3" height="12.0" fill="#ef5350"/>
<rect x="369" y="301.2" width="1" height="26.5" fill="#ef5350"/>
<rect x="368" y="312.2" width="3" height="15.0" fill="#ef5350"/>
<rect x="374" y="274.1" width="1" height="56.1" fill="#26a69a"/>
<rect x="373" y="309.2" width="3" height="18.0" fill="#26a69a"/>
<rect x="378" y="290.2" width="1" height="21.0" fill="#26a69a"/>
<rect x="377" y="295.2" width="3" height="14.0" fill="#26a69a"/>
<rect x="383" y="234.1" width="1" height="65.1" fill="#26a69a"/>
<rect x="382" y="249.1" width="3" height="46.1" fill="#26a69a"/>
<rect x="388" y="232.1" width="1" height="33.1" fill="#ef5350"/>
<rect x="387" y="249.5" width="3" height="3.2" fill="#ef5350"/>
<rect x="392" y="225.0" width="1" height="34.1" fill="#26a69a"/>
<rect x="391" y="242.1" width="3" height="10.0" fill="#26a69a"/>
<rect x="397" y="240.1" width="1" height="22.0" fill="#ef5350"/>
<rect x="396" y="241.7" width="3" height="8.4" fill="#ef5350"/>
<rect x="401" y="224.2" width="1" height="26.5" fill="#26a69a"/>
<rect x="400" y="226.2" width="3" height="22.9" fill="#26a69a"/>
<rect x="406" y="214.0" width="1" height="47.2" fill="#ef5350"/>
<rect x="405" y="227.0" width="3" height="4.1" fill="#ef5350"/>
<rect x="411" y="220.2" width="1" height="29.1" fill="#ef5350"/>
<rect x="410" y="231.2" width="3" height="4.0" fill="#ef5350"/>
<rect x="415" y="224.2" width="1" height="18.0" fill="#ef5350"/>
<rect x="414" y="235.2" width="3" height="4.0" fill="#ef5350"/>
<rect x="420" y="161.0" width="1" height="79.2" fill="#26a69a"/>
<rect x="419" y="187.1" width="3" height="52.1" fill="#26a69a"/>
<rect x="424" y="150.0" width="1" height="55.1" fill="#ef5350"/>
<rect x="423" y="187.1" width="3" height="14.0" fill="#ef5350"/>
<rect x="429" y="175.1" width="1" height="43.1" fill="#26a69a"/>
<rect x="428" y="199.1" width="3" height="1.0" fill="#26a69a"/>
<rect x="434" y="199.1" width="1" height="39.1" fill="#ef5350"/>
<rect x="433" y="199.1" width="3" height="19.0" fill="#ef5350"/>
<rect x="438" y="198.1" width="1" height="34.1" fill="#26a69a"/>
<rect x="437" y="203.1" width="3" height="15.0" fill="#26a69a"/>
<rect x="443" y="187.1" width="1" height="22.0" fill="#26a69a"/>
<rect x="442" y="201.1" width="3" height="4.0" fill="#26a69a"/>
<rect x="447" y="184.1" width="1" height="39.1" fill="#26a69a"/>
<rect x="446" y="197.1" width="3" height="4.6" fill="#26a69a"/>
<rect x="452" y="173.1" width="1" height="30.1" fill="#ef5350"/>
<rect x="451" y="197.1" width="3" height="4.0" fill="#ef5350"/>
<rect x="457" y="197.1" width="1" height="64.1" fill="#ef5350"/>
<rect x="456" y="200.1" width="3" height="22.0" fill="#ef5350"/>
<rect x="461" y="215.2" width="1" height="22.0" fill="#ef5350"/>
<rect x="460" y="223.2" width="3" height="5.0" fill="#ef5350"/>
<rect x="466" y="218.2" width="1" height="18.0" fill="#26a69a"/>
<rect x="465" y="224.2" width="3" height="4.0" fill="#26a69a"/>
<rect x="471" y="191.1" width="1" height="33.1" fill="#26a69a"/>
<rect x="470" y="194.5" width="3" height="29.7" fill="#26a69a"/>
<rect x="475" y="185.1" width="1" height="41.1" fill="#ef5350"/>
<rect x="474" y="195.1" width="3" height="29.1" fill="#ef5350"/>
<rect x="480" y="203.1" width="1" height="29.1" fill="#26a69a"/>
<rect x="479" y="221.2" width="3" height="3.0" fill="#26a69a"/>
<rect x="484" y="217.2" width="1" height="14.0" fill="#26a69a"/>
<rect x="483" y="221.2" width="3" height="3.0" fill="#26a69a"/>
<rect x="489" y="220.2" width="1" height="23.0" fill="#ef5350"/>
<rect x="488" y="221.2" width="3" height="8.0" fill="#ef5350"/>
<rect x="494" y="217.2" width="1" height="13.0" fill="#26a69a"/>
<rect x="493" y="222.6" width="3" height="6.6" fill="#26a69a"/>
<rect x="498" y="187.1" width="1" height="36.1" fill="#26a69a"/>
<rect x="497" y="215.2" width="3" height="7.4" fill="#26a69a"/>
<rect x="503" y="205.1" width="1" height="92.8" fill="#ef5350"/>
<rect x="502" y="214.1" width="3" height="61.1" fill="#ef5350"/>
<rect x="507" y="228.2" width="1" height="52.5" fill="#26a69a"/>
<rect x="506" y="228.2" width="3" height="46.1" fill="#26a69a"/>
<rect x="512" y="224.2" width="1" height="25.1" fill="#26a69a"/>
<rect x="511" y="227.2" width="3" height="15.0" fill="#26a69a"/>
<rect x="517" y="210.1" width="1" height="28.1" fill="#26a69a"/>
<rect x="516" y="224.2" width="3" height="4.0" fill="#26a69a"/>
<rect x="521" y="190.1" width="1" height="44.1" fill="#26a69a"/>
<rect x="520" y="212.1" width="3" height="13.0" fill="#26a69a"/>
<rect x="526" y="202.1" width="1" height="33.1" fill="#ef5350"/>
<rect x="525" y="212.1" width="3" height="13.0" fill="#ef5350"/>
<rect x="530" y="194.1" width="1" height="30.1" fill="#26a69a"/>
<rect x="529" y="199.7" width="3" height="24.4" fill="#26a69a"/>
<rect x="535" y="147.0" width="1" height="58.1" fill="#26a69a"/>
<rect x="534" y="161.0" width="3" height="39.2" fill="#26a69a"/>
<rect x="540" y="136.2" width="1" height="52.9" fill="#ef5350"/>
<rect x="539" y="161.0" width="3" height="6.2" fill="#ef5350"/>
<rect x="544" y="165.1" width="1" height="37.1" fill="#ef5350"/>
<rect x="543" y="166.1" width="3" height="23.0" fill="#ef5350"/>
<rect x="549" y="175.1" width="1" height="43.1" fill="#ef5350"/>
<rect x="548" y="188.1" width="3" height="5.0" fill="#ef5350"/>
<rect x="553" y="146.0" width="1" height="49.1" fill="#26a69a"/>
<rect x="552" y="156.0" width="3" height="37.1" fill="#26a69a"/>
<rect x="558" y="116.1" width="1" height="40.9" fill="#26a69a"/>
<rect x="557" y="123.1" width="3" height="33.9" fill="#26a69a"/>
<rect x="563" y="120.1" width="1" height="33.1" fill="#ef5350"/>
<rect x="562" y="122.1" width="3" height="14.0" fill="#ef5350"/>
<rect x="567" y="88.1" width="1" height="121.1" fill="#ef5350"/>
<rect x="566" y="136.2" width="3" height="35.9" fill="#ef5350"/>
<rect x="572" y="137.2" width="1" height="41.1" fill="#26a69a"/>
<rect x="571" y="158.8" width="3" height="13.3" fill="#26a69a"/>
<rect x="577" y="149.0" width="1" height="41.1" fill="#ef5350"/>
<rect x="576" y="159.0" width="3" height="14.0" fill="#ef5350"/>
<rect x="581" y="164.0" width="1" height="17.0" fill="#26a69a"/>
<rect x="580" y="171.7" width="3" height="1.4" fill="#26a69a"/>
<rect x="586" y="166.1" width="1" height="16.0" fill="#ef5350"/>
<rect x="585" y="171.7" width="3" height="1.0" fill="#ef5350"/>
<rect x="590" y="156.0" width="1" height="27.1" fill="#ef5350"/>
<rect x="589" y="172.1" width="3" height="9.0" fill="#ef5350"/>
<rect x="595" y="180.1" width="1" height="69.1" fill="#ef5350"/>
<rect x="594" y="181.1" width="3" height="45.1" fill="#ef5350"/>
<rect x="600" y="212.1" width="1" height="28.1" fill="#26a69a"/>
<rect x="599" y="221.2" width="3" height="5.0" fill="#26a69a"/>
<rect x="604" y="182.1" width="1" height="81.2" fill="#ef5350"/>
<rect x="603" y="221.2" width="3" height="29.1" fill="#ef5350"/>
<rect x="609" y="217.2" width="1" height="45.1" fill="#26a69a"/>
<rect x="608" y="224.2" width="3" height="26.1" fill="#26a69a"/>
<rect x="613" y="217.8" width="1" height="22.4" fill="#26a69a"/>
<rect x="612" y="220.2" width="3" height="4.0" fill="#26a69a"/>
<rect x="618" y="220.2" width="1" height="22.0" fill="#ef5350"/>
<rect x="617" y="220.2" width="3" height="21.6" fill="#ef5350"/>
<rect x="623" y="234.2" width="1" height="24.0" fill="#ef5350"/>
<rect x="622" y="241.2" width="3" height="11.0" fill="#ef5350"/>
<rect x="627" y="233.2" width="1" height="28.1" fill="#26a69a"/>
<rect x="626" y="236.2" width="3" height="16.0" fill="#26a69a"/>
<rect x="632" y="232.2" width="1" height="35.1" fill="#ef5350"/>
<rect x="631" y="236.2" width="3" height="19.0" fill="#ef5350"/>
<rect x="636" y="237.2" width="1" height="23.0" fill="#26a69a"/>
<rect x="635" y="248.2" width="3" height="7.0" fill="#26a69a"/>
<rect x="641" y="246.2" width="1" height="71.4" fill="#ef5350"/>
<rect x="640" y="248.2" width="3" height="55.7" fill="#ef5350"/>
<rect x="646" y="289.3" width="1" height="16.1" fill="#26a69a"/>
<rect x="645" y="299.3" width="3" height="4.6" fill="#26a69a"/>
<rect x="650" y="286.3" width="1" height="45.7" fill="#26a69a"/>
<rect x="649" y="287.3" width="3" height="15.6" fill="#26a69a"/>
<rect x="655" y="270.2" width="1" height="20.1" fill="#26a69a"/>
<rect x="654" y="276.2" width="3" height="12.1" fill="#26a69a"/>
<rect x="660" y="255.0" width="1" height="30.8" fill="#26a69a"/>
<rect x="659" y="272.2" width="3" height="5.1" fill="#26a69a"/>
<rect x="664" y="262.0" width="1" height="19.3" fill="#ef5350"/>
<rect x="663" y="272.0" width="3" height="6.0" fill="#ef5350"/>
<rect x="669" y="276.1" width="1" height="19.3" fill="#ef5350"/>
<rect x="668" y="276.1" width="3" height="12.2" fill="#ef5350"/>
<rect x="673" y="279.1" width="1" height="49.6" fill="#ef5350"/>
<rect x="672" y="286.1" width="3" height="27.1" fill="#ef5350"/>
<rect x="678" y="310.1" width="1" height="170.5" fill="#ef5350"/>
<rect x="677" y="312.1" width="3" height="40.1" fill="#ef5350"/>
<rect x="683" y="343.2" width="1" height="48.4" fill="#ef5350"/>
<rect x="682" y="352.2" width="3" height="21.0" fill="#ef5350"/>
<rect x="687" y="360.2" width="1" height="42.2" fill="#26a69a"/>
<rect x="686" y="362.2" width="3" height="11.0" fill="#26a69a"/>
<rect x="692" y="351.2" width="1" height="22.0" fill="#ef5350"/>
<rect x="691" y="362.2" width="3" height="6.0" fill="#ef5350"/>
<rect x="696" y="331.2" width="1" height="42.1" fill="#26a69a"/>
<rect x="695" y="343.2" width="3" height="25.1" fill="#26a69a"/>
<rect x="701" y="304.1" width="1" height="54.1" fill="#ef5350"/>
<rect x="700" y="343.2" width="3" height="2.6" fill="#ef5350"/>
<rect x="706" y="332.2" width="1" height="47.1" fill="#ef5350"/>
<rect x="705" y="345.2" width="3" height="31.5" fill="#ef5350"/>
<rect x="710" y="352.2" width="1" height="31.1" fill="#26a69a"/>
<rect x="709" y="354.2" width="3" height="22.4" fill="#26a69a"/>
<rect x="715" y="346.2" width="1" height="24.0" fill="#26a69a"/>
<rect x="714" y="354.2" width="3" height="1.6" fill="#26a69a"/>
<rect x="719" y="352.2" width="1" height="44.2" fill="#ef5350"/>
<rect x="718" y="355.2" width="3" height="31.1" fill="#ef5350"/>
<rect x="724" y="363.2" width="1" height="27.1" fill="#26a69a"/>
<rect x="723" y="370.2" width="3" height="16.0" fill="#26a69a"/>
<rect x="729" y="355.2" width="1" height="32.1" fill="#26a69a"/>
<rect x="728" y="362.2" width="3" height="8.0" fill="#26a69a"/>
<rect x="733" y="357.2" width="1" height="17.0" fill="#ef5350"/>
<rect x="732" y="362.2" width="3" height="11.0" fill="#ef5350"/>
<rect x="738" y="359.2" width="1" height="29.1" fill="#ef5350"/>
<rect x="737" y="373.2" width="3" height="4.0" fill="#ef5350"/>
<rect x="742" y="358.2" width="1" height="21.0" fill="#26a69a"/>
<rect x="741" y="362.2" width="3" height="15.0" fill="#26a69a"/>
<rect x="747" y="350.2" width="1" height="15.0" fill="#26a69a"/>
<rect x="746" y="357.2" width="3" height="6.0" fill="#26a69a"/>
<rect x="752" y="315.1" width="1" height="47.1" fill="#26a69a"/>
<rect x="751" y="334.2" width="3" height="23.0" fill="#26a69a"/>
<rect x="756" y="291.1" width="1" height="56.1" fill="#26a69a"/>
<rect x="755" y="298.1" width="3" height="36.1" fill="#26a69a"/>
<rect x="761" y="285.1" width="1" height="25.1" fill="#26a69a"/>
<rect x="760" y="295.7" width="3" height="4.4" fill="#26a69a"/>
<rect x="766" y="262.0" width="1" height="41.1" fill="#26a69a"/>
<rect x="765" y="274.0" width="3" height="22.0" fill="#26a69a"/>
<rect x="770" y="274.0" width="1" height="51.1" fill="#ef5350"/>
<rect x="769" y="274.0" width="3" height="43.1" fill="#ef5350"/>
<rect x="775" y="305.1" width="1" height="18.0" fill="#26a69a"/>
<rect x="774" y="310.1" width="3" height="7.0" fill="#26a69a"/>
<rect x="779" y="306.1" width="1" height="14.0" fill="#ef5350"/>
<rect x="778" y="310.1" width="3" height="3.0" fill="#ef5350"/>
<rect x="784" y="294.5" width="1" height="20.6" fill="#26a69a"/>
<rect x="783" y="309.1" width="3" height="4.0" fill="#26a69a"/>
<rect x="789" y="309.1" width="1" height="42.1" fill="#ef5350"/>
<rect x="788" y="309.1" width="3" height="40.1" fill="#ef5350"/>
<rect x="793" y="342.2" width="1" height="27.7" fill="#ef5350"/>
<rect x="792" y="349.2" width="3" height="18.0" fill="#ef5350"/>
<rect x="798" y="344.2" width="1" height="30.1" fill="#26a69a"/>
<rect x="797" y="355.2" width="3" height="12.0" fill="#26a69a"/>
<rect x="802" y="347.2" width="1" height="26.1" fill="#ef5350"/>
<rect x="801" y="356.2" width="3" height="4.0" fill="#ef5350"/>
<rect x="807" y="347.2" width="1" height="14.0" fill="#26a69a"/>
<rect x="806" y="348.2" width="3" height="12.0" fill="#26a69a"/>
<rect x="812" y="341.2" width="1" height="14.0" fill="#26a69a"/>
<rect x="811" y="345.2" width="3" height="4.0" fill="#26a69a"/>
<rect x="816" y="345.2" width="1" height="19.0" fill="#ef5350"/>
<rect x="815" y="345.2" width="3" height="14.0" fill="#ef5350"/>
<rect x="821" y="352.2" width="1" height="34.1" fill="#ef5350"/>
<rect x="820" y="359.2" width="3" height="5.0" fill="#ef5350"/>
<rect x="825" y="356.2" width="1" height="66.3" fill="#ef5350"/>
<rect x="824" y="364.2" width="3" height="26.8" fill="#ef5350"/>
<rect x="830" y="380.3" width="1" height="27.4" fill="#26a69a"/>
<rect x="829" y="387.3" width="3" height="3.0" fill="#26a69a"/>
<rect x="835" y="386.3" width="1" height="26.7" fill="#ef5350"/>
<rect x="834" y="387.3" width="3" height="8.3" fill="#ef5350"/>
<rect x="839" y="388.3" width="1" height="27.4" fill="#ef5350"/>
<rect x="838" y="395.0" width="3" height="10.0" fill="#ef5350"/>
<rect x="844" y="393.0" width="1" height="15.3" fill="#26a69a"/>
<rect x="843" y="399.3" width="3" height="5.7" fill="#26a69a"/>
<rect x="849" y="397.0" width="1" height="32.7" fill="#ef5350"/>
<rect x="848" y="399.3" width="3" height="8.3" fill="#ef5350"/>
<rect x="853" y="388.3" width="1" height="23.4" fill="#26a69a"/>
<rect x="852" y="391.0" width="3" height="16.6" fill="#26a69a"/>
<rect x="858" y="367.2" width="1" height="30.4" fill="#26a69a"/>
<rect x="857" y="375.9" width="3" height="16.2" fill="#26a69a"/>
<rect x="862" y="373.2" width="1" height="22.4" fill="#ef5350"/>
<rect x="861" y="375.9" width="3" height="17.2" fill="#ef5350"/>
<rect x="867" y="375.3" width="1" height="25.2" fill="#26a69a"/>
<rect x="866" y="390.0" width="3" height="3.6" fill="#26a69a"/>
<rect x="872" y="381.3" width="1" height="10.0" fill="#26a69a"/>
<rect x="871" y="387.3" width="3" height="3.0" fill="#26a69a"/>
<rect x="876" y="382.3" width="1" height="9.0" fill="#ef5350"/>
<rect x="875" y="386.9" width="3" height="1.0" fill="#ef5350"/>
<rect x="881" y="386.3" width="1" height="15.4" fill="#ef5350"/>
<rect x="880" y="387.3" width="3" height="9.1" fill="#ef5350"/>
<rect x="885" y="392.0" width="1" height="17.6" fill="#ef5350"/>
<rect x="884" y="396.0" width="3" height="5.6" fill="#ef5350"/>
<rect x="890" y="400.0" width="1" height="15.6" fill="#ef5350"/>
<rect x="889" y="401.0" width="3" height="7.4" fill="#ef5350"/>
<rect x="895" y="396.0" width="1" height="24.0" fill="#ef5350"/>
<rect x="894" y="408.3" width="3" height="10.7" fill="#ef5350"/>
<rect x="899" y="413.0" width="1" height="61.5" fill="#ef5350"/>
<rect x="898" y="418.1" width="3" height="43.1" fill="#ef5350"/>
<rect x="904" y="452.1" width="1" height="54.5" fill="#ef5350"/>
<rect x="903" y="461.1" width="3" height="21.4" fill="#ef5350"/>
<rect x="908" y="462.1" width="1" height="23.6" fill="#26a69a"/>
<rect x="907" y="466.2" width="3" height="16.4" fill="#26a69a"/>
<rect x="913" y="466.2" width="1" height="39.7" fill="#ef5350"/>
<rect x="912" y="466.2" width="3" height="8.0" fill="#ef5350"/>
<rect x="918" y="468.2" width="1" height="18.4" fill="#26a69a"/>
<rect x="917" y="471.2" width="3" height="3.0" fill="#26a69a"/>
<rect x="922" y="450.1" width="1" height="27.7" fill="#26a69a"/>
<rect x="921" y="469.7" width="3" height="2.0" fill="#26a69a"/>
<rect x="927" y="468.1" width="1" height="17.6" fill="#ef5350"/>
<rect x="926" y="469.1" width="3" height="7.6" fill="#ef5350"/>
<rect x="932" y="472.5" width="1" height="12.0" fill="#26a69a"/>
<rect x="931" y="474.5" width="3" height="2.2" fill="#26a69a"/>
<rect x="936" y="467.1" width="1" height="9.0" fill="#26a69a"/>
<rect x="935" y="470.5" width="3" height="5.2" fill="#26a69a"/>
<rect x="941" y="468.1" width="1" height="14.0" fill="#ef5350"/>
<rect x="940" y="471.1" width="3" height="10.0" fill="#ef5350"/>
<rect x="945" y="468.5" width="1" height="22.0" fill="#26a69a"/>
<rect x="944" y="470.5" width="3" height="10.6" fill="#26a69a"/>
<rect x="950" y="463.7" width="1" height="10.8" fill="#26a69a"/>
<rect x="949" y="465.7" width="3" height="6.0" fill="#26a69a"/>
<rect x="955" y="464.1" width="1" height="18.4" fill="#ef5350"/>
<rect x="954" y="465.7" width="3" height="15.4" fill="#ef5350"/>
<rect x="959" y="474.1" width="1" height="12.4" fill="#26a69a"/>
<rect x="958" y="475.2" width="3" height="6.0" fill="#26a69a"/>
<rect x="964" y="450.1" width="1" height="27.7" fill="#26a69a"/>
<rect x="963" y="450.3" width="3" height="25.9" fill="#26a69a"/>
<rect x="968" y="435.1" width="1" height="18.2" fill="#26a69a"/>
<rect x="967" y="446.1" width="3" height="6.2" fill="#26a69a"/>
<rect x="973" y="434.1" width="1" height="14.2" fill="#26a69a"/>
<rect x="972" y="436.3" width="3" height="11.0" fill="#26a69a"/>
<rect x="978" y="355.1" width="1" height="85.2" fill="#26a69a"/>
<rect x="977" y="359.1" width="3" height="79.2" fill="#26a69a"/>
<rect x="982" y="316.0" width="1" height="57.1" fill="#26a69a"/>
<rect x="981" y="336.1" width="3" height="23.4" fill="#26a69a"/>
<rect x="987" y="314.0" width="1" height="39.1" fill="#ef5350"/>
<rect x="986" y="336.1" width="3" height="4.0" fill="#ef5350"/>
<rect x="991" y="325.1" width="1" height="39.5" fill="#ef5350"/>
<rect x="990" y="339.1" width="3" height="23.0" fill="#ef5350"/>
<rect x="996" y="358.1" width="1" height="44.1" fill="#ef5350"/>
<rect x="995" y="362.1" width="3" height="36.1" fill="#ef5350"/>
<rect x="1001" y="348.1" width="1" height="55.1" fill="#26a69a"/>
<rect x="1000" y="363.1" width="3" height="35.1" fill="#26a69a"/>
<rect x="1005" y="351.1" width="1" height="29.1" fill="#ef5350"/>
<rect x="1004" y="364.1" width="3" height="9.0" fill="#ef5350"/>
<rect x="1010" y="369.1" width="1" height="17.0" fill="#ef5350"/>
<rect x="1009" y="373.1" width="3" height="3.0" fill="#ef5350"/>
<rect x="1014" y="344.1" width="1" height="33.7" fill="#26a69a"/>
<rect x="1013" y="348.1" width="3" height="28.1" fill="#26a69a"/>
<rect x="1019" y="348.1" width="1" height="22.4" fill="#ef5350"/>
<rect x="1018" y="348.7" width="3" height="9.4" fill="#ef5350"/>
<rect x="1024" y="352.1" width="1" height="47.1" fill="#ef5350"/>
<rect x="1023" y="356.1" width="3" height="36.1" fill="#ef5350"/>
<rect x="1028" y="373.1" width="1" height="25.1" fill="#26a69a"/>
<rect x="1027" y="384.2" width="3" height="8.0" fill="#26a69a"/>
<rect x="1033" y="347.1" width="1" height="43.1" fill="#26a69a"/>
<rect x="1032" y="364.1" width="3" height="20.0" fill="#26a69a"/>
<rect x="1038" y="363.1" width="1" height="26.1" fill="#ef5350"/>
<rect x="1037" y="363.7" width="3" height="24.4" fill="#ef5350"/>
<rect x="1042" y="375.2" width="1" height="55.1" fill="#ef5350"/>
<rect x="1041" y="388.2" width="3" height="39.1" fill="#ef5350"/>
<rect x="1047" y="400.0" width="1" height="44.5" fill="#26a69a"/>
<rect x="1046" y="416.2" width="3" height="11.0" fill="#26a69a"/>
<rect x="1051" y="405.2" width="1" height="26.1" fill="#ef5350"/>
<rect x="1050" y="416.2" width="3" height="14.0" fill="#ef5350"/>
<rect x="1056" y="400.0" width="1" height="68.5" fill="#ef5350"/>
<rect x="1055" y="429.9" width="3" height="1.0" fill="#ef5350"/>
<rect x="1061" y="386.2" width="1" height="50.1" fill="#26a69a"/>
<rect x="1060" y="391.2" width="3" height="39.1" fill="#26a69a"/>
<rect x="1065" y="378.2" width="1" height="28.1" fill="#ef5350"/>
<rect x="1064" y="391.2" width="3" height="11.0" fill="#ef5350"/>
<rect x="1070" y="393.2" width="1" height="32.1" fill="#ef5350"/>
<rect x="1069" y="402.2" width="3" height="15.0" fill="#ef5350"/>
<rect x="1074" y="379.2" width="1" height="44.1" fill="#26a69a"/>
<rect x="1073" y="386.2" width="3" height="31.1" fill="#26a69a"/>
<rect x="1079" y="374.1" width="1" height="17.0" fill="#26a69a"/>
<rect x="1078" y="384.2" width="3" height="2.4" fill="#26a69a"/>
<rect x="1084" y="383.2" width="1" height="15.0" fill="#ef5350"/>
<rect x="1083" y="384.2" width="3" height="8.0" fill="#ef5350"/>
<rect x="1088" y="381.2" width="1" height="29.1" fill="#ef5350"/>
<rect x="1087" y="392.2" width="3" height="9.0" fill="#ef5350"/>
<rect x="1093" y="400.2" width="1" height="30.1" fill="#ef5350"/>
<rect x="1092" y="401.2" width="3" height="20.0" fill="#ef5350"/>
<rect x="1097" y="392.2" width="1" height="33.1" fill="#26a69a"/>
<rect x="1096" y="400.2" width="3" height="21.0" fill="#26a69a"/>
<rect x="1102" y="397.2" width="1" height="20.0" fill="#ef5350"/>
<rect x="1101" y="400.2" width="3" height="16.0" fill="#ef5350"/>
<rect x="1107" y="405.2" width="1" height="20.0" fill="#ef5350"/>
<rect x="1106" y="415.8" width="3" height="2.4" fill="#ef5350"/>
<rect x="1111" y="412.2" width="1" height="8.0" fill="#26a69a"/>
<rect x="1110" y="415.2" width="3" height="3.0" fill="#26a69a"/>
<rect x="1116" y="389.2" width="1" height="28.1" fill="#26a69a"/>
<rect x="1115" y="393.8" width="3" height="22.4" fill="#26a69a"/>
<rect x="1121" y="386.2" width="1" height="29.1" fill="#ef5350"/>
<rect x="1120" y="393.8" width="3" height="15.4" fill="#ef5350"/>
<rect x="1125" y="368.1" width="1" height="46.1" fill="#26a69a"/>
<rect x="1124" y="374.1" width="3" height="35.1" fill="#26a69a"/>
<rect x="1130" y="350.1" width="1" height="36.5" fill="#ef5350"/>
<rect x="1129" y="374.1" width="3" height="9.0" fill="#ef5350"/>
<rect x="1134" y="373.1" width="1" height="28.1" fill="#ef5350"/>
<rect x="1133" y="383.2" width="3" height="15.0" fill="#ef5350"/>
<rect x="1139" y="387.2" width="1" height="17.0" fill="#26a69a"/>
<rect x="1138" y="389.2" width="3" height="9.0" fill="#26a69a"/>
<rect x="1144" y="388.2" width="1" height="17.0" fill="#ef5350"/>
<rect x="1143" y="389.2" width="3" height="6.0" fill="#ef5350"/>
<rect x="1148" y="379.2" width="1" height="18.0" fill="#26a69a"/>
<rect x="1147" y="379.8" width="3" height="15.4" fill="#26a69a"/>
<rect x="1153" y="375.2" width="1" height="9.8" fill="#26a69a"/>
<rect x="1152" y="378.8" width="3" height="2.3" fill="#26a69a"/>
<rect x="1157" y="375.2" width="1" height="12.6" fill="#26a69a"/>
<rect x="1156" y="377.8" width="3" height="2.0" fill="#26a69a"/>
<rect x="1162" y="362.1" width="1" height="17.6" fill="#26a69a"/>
<rect x="1161" y="365.1" width="3" height="13.7" fill="#26a69a"/>
<rect x="1167" y="363.6" width="1" height="14.2" fill="#ef5350"/>
<rect x="1166" y="364.6" width="3" height="9.9" fill="#ef5350"/>
<rect x="1171" y="347.5" width="1" height="34.2" fill="#26a69a"/>
<rect x="1170" y="356.1" width="3" height="18.4" fill="#26a69a"/>
<rect x="1176" y="341.0" width="1" height="19.8" fill="#ef5350"/>
<rect x="1175" y="355.9" width="3" height="2.7" fill="#ef5350"/>
<rect x="1180" y="352.1" width="1" height="14.7" fill="#26a69a"/>
<rect x="1179" y="355.9" width="3" height="2.3" fill="#26a69a"/>
<rect x="1185" y="349.1" width="1" height="11.7" fill="#26a69a"/>
<rect x="1184" y="352.7" width="3" height="4.2" fill="#26a69a"/>
<rect x="1190" y="352.0" width="1" height="13.6" fill="#ef5350"/>
<rect x="1189" y="352.6" width="3" height="11.2" fill="#ef5350"/>
<rect x="1194" y="357.1" width="1" height="7.8" fill="#26a69a"/>
<rect x="1193" y="359.1" width="3" height="4.5" fill="#26a69a"/>
<rect x="1199" y="344.9" width="1" height="15.9" fill="#26a69a"/>
<rect x="1198" y="345.5" width="3" height="14.2" fill="#26a69a"/>
<rect x="1203" y="308.1" width="1" height="39.4" fill="#26a69a"/>
<rect x="1202" y="342.3" width="3" height="2.6" fill="#26a69a"/>
<rect x="1208" y="331.3" width="1" height="23.2" fill="#ef5350"/>
<rect x="1207" y="342.3" width="3" height="3.9" fill="#ef5350"/>
<rect x="1213" y="338.4" width="1" height="13.3" fill="#26a69a"/>
<rect x="1212" y="344.2" width="3" height="2.6" fill="#26a69a"/>
<rect x="1217" y="337.1" width="1" height="49.5" fill="#ef5350"/>
<rect x="1216" y="344.5" width="3" height="24.3" fill="#ef5350"/>
<rect x="1222" y="358.2" width="1" height="13.4" fill="#26a69a"/>
<rect x="1221" y="363.0" width="3" height="5.8" fill="#26a69a"/>
</g>
<g clip-path="url(#cr)">
<polyline points="10.5,687.4 14.5,690.3 19.5,690.3 23.5,696.6 28.5,700.0 33.5,702.2 37.5,699.5 42.5,709.7 46.5,718.2 51.5,691.5 56.5,681.3 60.5,673.3 65.5,673.5 69.5,674.2 74.5,663.6 79.5,653.4 83.5,619.4 88.5,614.5 92.5,613.8 97.5,618.1 102.5,630.8 106.5,625.9 111.5,640.5 116.5,633.2 120.5,632.2 125.5,625.9 129.5,602.8 134.5,625.4 139.5,613.3 143.5,603.6 148.5,575.6 152.5,595.8 157.5,578.1 162.5,562.8 166.5,562.8 171.5,596.3 175.5,619.4 180.5,610.4 185.5,601.1 189.5,598.7 194.5,611.6 199.5,610.4 203.5,607.2 208.5,636.4 212.5,630.3 217.5,653.4 222.5,633.9 226.5,642.9 231.5,644.4 235.5,652.6 240.5,638.1 245.5,630.3 249.5,627.4 254.5,621.8 258.5,631.0 263.5,621.1 268.5,611.3 272.5,664.3 277.5,668.7 281.5,670.6 286.5,675.2 291.5,671.1 295.5,663.1 300.5,672.8 305.5,666.7 309.5,661.1 314.5,666.7 318.5,671.6 323.5,669.9 328.5,675.7 332.5,699.5 337.5,706.8 341.5,674.5 346.5,675.2 351.5,685.7 355.5,686.1 360.5,685.4 364.5,689.3 369.5,695.1 374.5,684.9 378.5,676.9 383.5,654.1 388.5,655.3 392.5,650.9 397.5,654.1 401.5,644.1 406.5,646.8 411.5,649.0 415.5,650.4 420.5,625.4 424.5,633.9 429.5,634.4 434.5,646.1 438.5,639.3 443.5,637.6 447.5,635.6 452.5,638.8 457.5,654.6 461.5,659.9 466.5,656.5 471.5,637.1 475.5,659.9 480.5,659.4 484.5,658.2 489.5,662.3 494.5,657.0 498.5,651.7 503.5,692.9 507.5,668.7 512.5,659.9 517.5,658.9 521.5,649.7 526.5,657.0 530.5,643.6 535.5,622.5 540.5,626.6 544.5,643.2 549.5,646.1 553.5,629.1 558.5,612.8 563.5,622.5 567.5,646.1 572.5,640.0 577.5,648.5 581.5,648.5 586.5,649.2 590.5,655.1 595.5,681.8 600.5,679.3 604.5,693.9 609.5,675.9 613.5,673.5 618.5,685.7 623.5,690.5 627.5,679.3 632.5,688.1 636.5,683.7 641.5,708.7 646.5,706.3 650.5,695.9 655.5,688.1 660.5,684.9 664.5,688.1 669.5,693.4 673.5,708.0 678.5,723.1 683.5,729.9 687.5,720.1 692.5,722.1 696.5,700.7 701.5,701.9 706.5,714.8 710.5,697.8 715.5,697.8 719.5,710.9 724.5,698.8 729.5,692.7 733.5,698.3 738.5,700.2 742.5,686.9 747.5,681.8 752.5,665.5 756.5,641.2 761.5,639.3 766.5,627.9 770.5,658.2 775.5,654.1 779.5,655.8 784.5,653.8 789.5,678.9 793.5,688.1 798.5,680.1 802.5,682.5 807.5,674.0 812.5,671.1 816.5,680.1 821.5,683.7 825.5,698.8 830.5,695.9 835.5,700.2 839.5,705.6 844.5,701.4 849.5,705.6 853.5,687.4 858.5,674.0 862.5,685.7 867.5,683.0 872.5,680.1 876.5,680.1 881.5,687.4 885.5,692.9 890.5,698.3 895.5,704.8 899.5,729.9 904.5,738.8 908.5,718.9 913.5,722.6 918.5,719.4 922.5,718.2 927.5,721.4 932.5,720.1 936.5,714.8 941.5,720.1 945.5,706.8 950.5,699.0 955.5,710.4 959.5,703.1 964.5,672.8 968.5,665.5 973.5,657.0 978.5,603.6 982.5,594.3 987.5,597.5 991.5,623.0 996.5,648.0 1001.5,630.8 1005.5,637.1 1010.5,638.8 1014.5,624.9 1019.5,630.8 1024.5,656.5 1028.5,649.7 1033.5,640.5 1038.5,659.4 1042.5,678.4 1047.5,672.1 1051.5,678.9 1056.5,678.9 1061.5,654.1 1065.5,661.9 1070.5,669.6 1074.5,650.9 1079.5,650.2 1084.5,654.6 1088.5,661.9 1093.5,674.5 1097.5,659.9 1102.5,668.7 1107.5,670.8 1111.5,670.8 1116.5,653.4 1121.5,664.3 1125.5,641.9 1130.5,648.5 1134.5,658.2 1139.5,653.4 1144.5,657.0 1148.5,647.3 1153.5,646.6 1157.5,645.3 1162.5,636.8 1167.5,643.6 1171.5,632.0 1176.5,632.0 1180.5,631.5 1185.5,629.1 1190.5,641.7 1194.5,636.4 1199.5,626.2 1203.5,623.5 1208.5,627.4 1213.5,626.2 1217.5,658.2 1222.5,652.9" fill="none" stroke="#7652c0" stroke-width="2" stroke-linejoin="round"/>
</g>
<text x="18" y="46" textLength="157" lengthAdjust="spacingAndGlyphs">XRP / TetherUS, 1D, BINANCE</text>
<text x="183.2" y="46" textLength="7" lengthAdjust="spacingAndGlyphs">O</text>
<text x="190.4" y="46" textLength="36" lengthAdjust="spacingAndGlyphs" fill="#26a69a">0.8149</text>
<text x="234.6" y="46" textLength="7.3" lengthAdjust="spacingAndGlyphs">H</text>
<text x="242" y="46" textLength="35" lengthAdjust="spacingAndGlyphs" fill="#26a69a">0.8331</text>
<text x="285.7" y="46" textLength="5.2" lengthAdjust="spacingAndGlyphs">L</text>
<text x="291" y="46" textLength="35" lengthAdjust="spacingAndGlyphs" fill="#26a69a">0.8070</text>
<text x="334.6" y="46" textLength="6.3" lengthAdjust="spacingAndGlyphs">C</text>
<text x="341" y="46" textLength="35" lengthAdjust="spacingAndGlyphs" fill="#26a69a">0.8241</text>
<text x="385" y="46" textLength="90.7" lengthAdjust="spacingAndGlyphs" fill="#26a69a">+0.0093 (+1.14%)</text>
<text x="18" y="63" textLength="89" lengthAdjust="spacingAndGlyphs">MA (50, close, 0)</text>
<text x="115.4" y="63" textLength="35.6" lengthAdjust="spacingAndGlyphs" fill="#f44336">0.7858</text>
<text x="18" y="80" textLength="95.6" lengthAdjust="spacingAndGlyphs">EMA (20, close, 0)</text>
<text x="121.8" y="80" textLength="35.7" lengthAdjust="spacingAndGlyphs" fill="#14349c">0.8210</text>
<text x="18" y="97" textLength="95.6" lengthAdjust="spacingAndGlyphs">MA (200, close, 0)</text>
<text x="121.8" y="97" textLength="35.7" lengthAdjust="spacingAndGlyphs" fill="#0a806a">0.8985</text>
<text x="18" y="572" textLength="76" lengthAdjust="spacingAndGlyphs">RSI (14, close)</text>
<text x="101.8" y="572" textLength="29.5" lengthAdjust="spacingAndGlyphs" fill="#7e57c2">52.66</text>
<text x="1332.3" y="65.7" textLength="35" lengthAdjust="spacingAndGlyphs">1.4000</text>
<text x="1332.3" y="118.1" textLength="35" lengthAdjust="spacingAndGlyphs">1.3000</text>
<text x="1332.3" y="170.5" textLength="35" lengthAdjust="spacingAndGlyphs">1.2000</text>
<text x="1332.3" y="222.9" textLength="35" lengthAdjust="spacingAndGlyphs">1.1000</text>
<text x="1332.3" y="432.5" textLength="35" lengthAdjust="spacingAndGlyphs">0.7000</text>
<text x="1332.3" y="484.9" textLength="35" lengthAdjust="spacingAndGlyphs">0.6000</text>
<g clip-path="url(#ca)">
<text x="1332.3" y="578.9" textLength="29.5" lengthAdjust="spacingAndGlyphs">80.00</text>
<text x="1332.3" y="636.7" textLength="29.5" lengthAdjust="spacingAndGlyphs">60.00</text>
<text x="1332.3" y="694.5" textLength="29.5" lengthAdjust="spacingAndGlyphs">40.00</text>
<text x="1332.3" y="752.3" textLength="29.5" lengthAdjust="spacingAndGlyphs">20.00</text>
</g>
<path d="M1322 45.2 H1372 a2 2 0 0 1 2 2 V59.7 a2 2 0 0 1 -2 2 H1322 Z" fill="#0000ff"/>
<text x="1332" y="57.75" fill="#fff" font-weight="bold" textLength="36" lengthAdjust="spacingAndGlyphs">1.4151</text>
<rect x="1338.5" y="33.5" width="35" height="18" rx="3" fill="#fff" stroke="#e0e3eb"/>
<text x="1356" y="46.8" textLength="26.5" lengthAdjust="spacingAndGlyphs" text-anchor="middle" font-size="11.5">USDT</text>
<path d="M1322 263.3 H1372 a2 2 0 0 1 2 2 V277.8 a2 2 0 0 1 -2 2 H1322 Z" fill="#0000ff"/>
<text x="1332" y="275.85" fill="#fff" font-weight="bold" textLength="36" lengthAdjust="spacingAndGlyphs">1.0000</text>
<path d="M1322 299 H1372 a2 2 0 0 1 2 2 V313.5 a2 2 0 0 1 -2 2 H1322 Z" fill="#0000ff"/>
<text x="1332" y="311.55" fill="#fff" font-weight="bold" textLength="36" lengthAdjust="spacingAndGlyphs">0.9168</text>
<path d="M1296 316.3 H1321 V332.8 H1296 a2 2 0 0 1 -2 -2 V318.3 a2 2 0 0 1 2 -2Z" fill="#0a806a"/>
<text x="1315" y="328.85" fill="#fff" font-weight="bold" text-anchor="end" textLength="16" lengthAdjust="spacingAndGlyphs">MA</text>
<path d="M1322 316.3 H1372 a2 2 0 0 1 2 2 V330.8 a2 2 0 0 1 -2 2 H1322 Z" fill="#0a806a"/>
<text x="1332" y="328.85" fill="#fff" font-weight="bold" textLength="36" lengthAdjust="spacingAndGlyphs">0.8985</text>
<path d="M1322 336.3 H1372 a2 2 0 0 1 2 2 V350.8 a2 2 0 0 1 -2 2 H1322 Z" fill="#0000ff"/>
<text x="1332" y="348.85" fill="#fff" font-weight="bold" textLength="36" lengthAdjust="spacingAndGlyphs">0.8600</text>
<path d="M1263 355.1 H1321 V371.6 H1263 a2 2 0 0 1 -2 -2 V357.1 a2 2 0 0 1 2 -2Z" fill="#26a69a"/>
<text x="1315" y="367.65" fill="#fff" font-weight="bold" text-anchor="end" textLength="48" lengthAdjust="spacingAndGlyphs">XRPUSDT</text>
<path d="M1322 355.1 H1383 a2 2 0 0 1 2 2 V383.7 a2 2 0 0 1 -2 2 H1322 Z" fill="#26a69a"/>
<text x="1332" y="367.65" fill="#fff" font-weight="bold" textLength="36" lengthAdjust="spacingAndGlyphs">0.8241</text>
<text x="1332.8" y="382.1" fill="#fff" fill-opacity="0.8" textLength="44.8" lengthAdjust="spacingAndGlyphs">07:03:19</text>
<path d="M1289.3 386.8 H1321 V403.3 H1289.3 a2 2 0 0 1 -2 -2 V388.8 a2 2 0 0 1 2 -2Z" fill="#14349c"/>
<text x="1315" y="399.35" fill="#fff" font-weight="bold" text-anchor="end" textLength="22" lengthAdjust="spacingAndGlyphs">EMA</text>
<path d="M1322 386.8 H1372 a2 2 0 0 1 2 2 V401 a2 2 0 0 1 -2 2 H1322 Z" fill="#14349c"/>
<text x="1332" y="399.35" fill="#fff" font-weight="bold" textLength="36" lengthAdjust="spacingAndGlyphs">0.8210</text>
<path d="M1296 403.6 H1321 V420.1 H1296 a2 2 0 0 1 -2 -2 V405.6 a2 2 0 0 1 2 -2Z" fill="#f44336"/>
<text x="1315" y="416.15" fill="#fff" font-weight="bold" text-anchor="end" textLength="16" lengthAdjust="spacingAndGlyphs">MA</text>
<path d="M1322 403.6 H1372 a2 2 0 0 1 2 2 V417.8 a2 2 0 0 1 -2 2 H1322 Z" fill="#f44336"/>
<text x="1332" y="416.15" fill="#fff" font-weight="bold" textLength="36" lengthAdjust="spacingAndGlyphs">0.7858</text>
<path d="M1322 525 H1372 a2 2 0 0 1 2 2 V539.5 a2 2 0 0 1 -2 2 H1322 Z" fill="#0000ff"/>
<text x="1332" y="537.55" fill="#fff" font-weight="bold" textLength="36" lengthAdjust="spacingAndGlyphs">0.5000</text>
<path d="M1295 645.3 H1321 V661.6 H1295 a2 2 0 0 1 -2 -2 V647.3 a2 2 0 0 1 2 -2Z" fill="#7e57c2"/>
<text x="1315.4" y="657.75" fill="#fff" font-weight="bold" text-anchor="end" textLength="16" lengthAdjust="spacingAndGlyphs">RSI</text>
<path d="M1322 645.3 H1366 a2 2 0 0 1 2 2 V659.6 a2 2 0 0 1 -2 2 H1322 Z" fill="#7e57c2"/>
<text x="1333" y="657.75" fill="#fff" font-weight="bold" textLength="29.5" lengthAdjust="spacingAndGlyphs">52.66</text>
<text x="102.5" y="768" text-anchor="middle" textLength="19.7" lengthAdjust="spacingAndGlyphs">Aug</text>
<text x="245.5" y="768" text-anchor="middle" textLength="19.2" lengthAdjust="spacingAndGlyphs">Sep</text>
<text x="383.5" y="768" text-anchor="middle" textLength="18.7" lengthAdjust="spacingAndGlyphs">Oct</text>
<text x="526.5" y="768" text-anchor="middle" textLength="20.5" lengthAdjust="spacingAndGlyphs">Nov</text>
<text x="664.5" y="768" text-anchor="middle" textLength="19.7" lengthAdjust="spacingAndGlyphs">Dec</text>
<text x="807.5" y="768" text-anchor="middle" textLength="27.9" lengthAdjust="spacingAndGlyphs" font-weight="bold">2022</text>
<text x="950.5" y="768" text-anchor="middle" textLength="18.7" lengthAdjust="spacingAndGlyphs">Feb</text>
<text x="1079.5" y="768" text-anchor="middle" textLength="18.7" lengthAdjust="spacingAndGlyphs">Mar</text>
<text x="1222.5" y="768" text-anchor="middle" textLength="18.3" lengthAdjust="spacingAndGlyphs">Apr</text>
<text x="1305.5" y="768" text-anchor="middle" textLength="11.5" lengthAdjust="spacingAndGlyphs">19</text>
<g fill="#1e222d"><path d="M10 790.3H18.6V799.7H13.6V794.3H10Z"/><circle cx="21.5" cy="792.1" r="1.65"/><path d="M24.6 790.3H29.4L26.2 799.7H21.2Z"/></g>
<text x="33.6" y="799.7" font-size="13" fill="#1e222d" textLength="69.5" lengthAdjust="spacingAndGlyphs">TradingView</text>
</svg>
</body></html>
